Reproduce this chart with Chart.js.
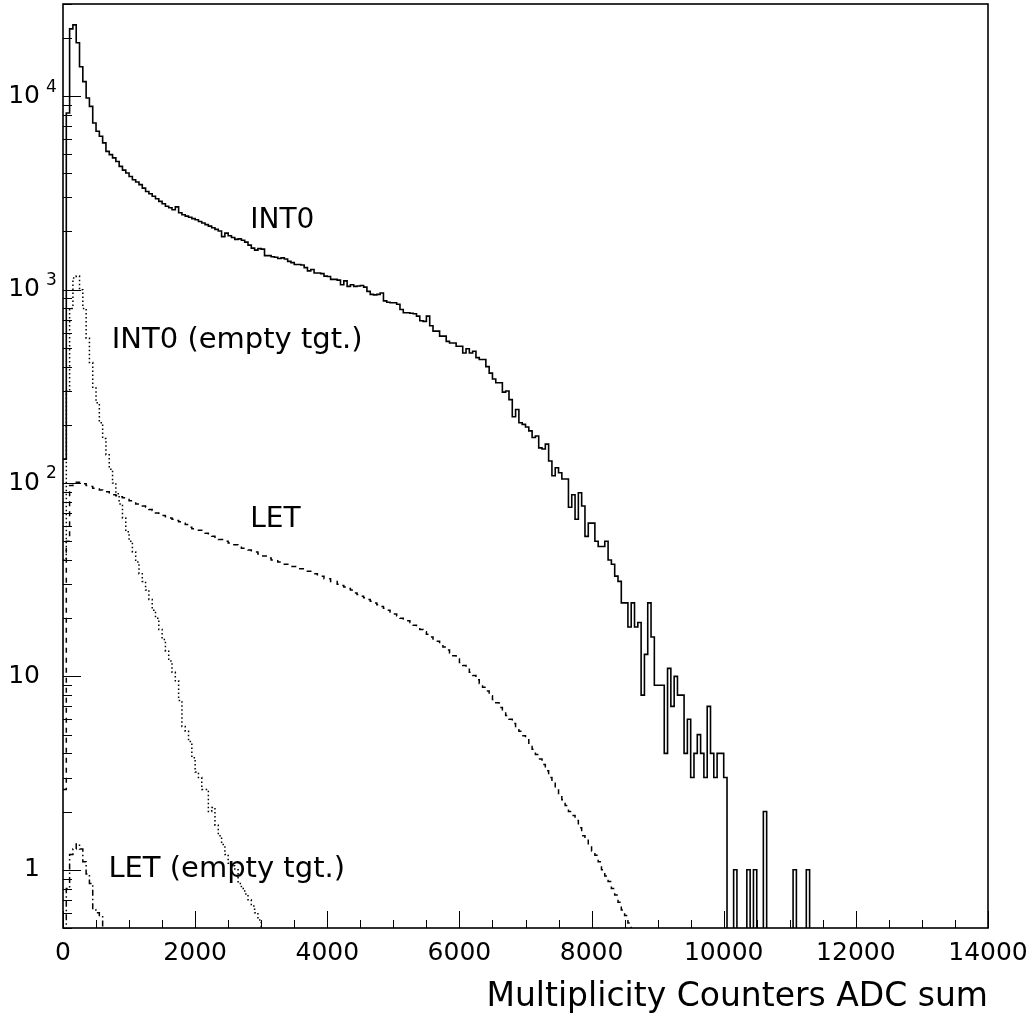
<!DOCTYPE html>
<html>
<head>
<meta charset="utf-8">
<script src="https://cdn.jsdelivr.net/npm/chart.js@4.4.0/dist/chart.umd.min.js"></script>
<style>
  body { margin: 0; background: #fff; }
  canvas { display: block; }
</style>
</head>
<body>
<canvas id="hist" width="1035" height="1024"></canvas>
<script>
// histogram bin width (ADC counts), every series starts at 0
const binWidth = 50;

// INT0 trigger, full target (solid)
const int0Counts = [
  133, 8200, 22300, 23400, 18900, 14200, 11900, 9800, 8870, 7280,
  6590, 6210, 5740, 5190, 4990, 4800, 4600, 4340, 4150, 4010,
  3850, 3700, 3600, 3490, 3350, 3220, 3130, 3040, 2950, 2860,
  2780, 2700, 2650, 2590, 2680, 2500, 2440, 2400, 2370, 2330,
  2300, 2250, 2210, 2170, 2130, 2090, 2050, 2010, 1880, 1960,
  1900, 1860, 1820, 1830, 1800, 1760, 1700, 1640, 1600, 1630,
  1620, 1500, 1500, 1480, 1470, 1450, 1460, 1440, 1400, 1380,
  1350, 1350, 1340, 1300, 1250, 1270, 1220, 1220, 1210, 1175,
  1170, 1130, 1130, 1120, 1060, 1110, 1040, 1060, 1040, 1045,
  1050, 1030, 980, 945, 940, 945, 960, 875, 860, 855,
  855, 840, 790, 760, 760, 755, 750, 730, 690, 685,
  730, 650, 610, 610, 575, 575, 540, 530, 530, 510,
  510, 470, 495, 470, 480, 445, 435, 435, 400, 370,
  345, 330, 330, 295, 299, 270, 220, 240, 205, 201,
  195, 186, 172, 175, 152, 150, 159, 130, 109, 120,
  113, 105, 105, 75, 87, 65, 89, 76, 53, 62,
  62, 50, 47, 47, 50, 40, 38, 33, 31, 24,
  24, 18, 24, 18, 19, 8, 13, 24, 16, 9,
  9, 9, 4, 11, 7, 10, 8, 8, 4, 6,
  3, 4, 5, 4, 3, 7, 4, 3, 4, 4,
  3, 0, 0, 1, 0, 0, 0, 1, 0, 1,
  0, 0, 2, 0, 0, 0, 0, 0, 0, 0,
  0, 1, 0, 0, 0, 1
];

// INT0 trigger, empty target (dotted)
const int0EmptyCounts = [
  40, 300, 800, 1150, 1175, 1000, 800, 560, 420, 310,
  260, 205, 170, 140, 118, 100, 88, 78, 66, 56,
  50, 44, 39, 34, 31, 28, 25, 22, 20, 17.5,
  15.5, 13.5, 12, 10.5, 9.5, 7.5, 5.5, 5.2, 4.6, 3.8,
  3.2, 3.0, 2.6, 2.6, 2.0, 2.1, 1.7, 1.5, 1.35, 1.2,
  1.08, 1.05, 1.0, 0.85, 0.8, 0.75, 0.7, 0.65, 0.6, 0.55
];

// LET trigger, full target (dashed)
const letCounts = [
  2.6, 50, 97, 100, 101, 100, 99, 97, 96, 94,
  93, 92, 91, 90, 89, 87, 86, 85, 84, 83,
  81, 80, 78, 77, 76, 75, 73, 72, 70, 69,
  68, 67, 66, 65, 64, 63, 62, 61, 59, 58,
  58, 57, 56, 55, 54, 53, 52, 51, 51, 50,
  49, 48, 48, 47, 46, 46, 45, 44, 44, 43,
  42, 42, 41, 40, 40, 39, 39, 38, 38, 37,
  37, 36, 36, 35, 35, 34, 34, 33, 33, 32,
  32, 31, 31, 30, 29.5, 29, 28.5, 28, 27, 26.5,
  26, 25.5, 25, 24.5, 24, 23.5, 23, 22.5, 22, 21.5,
  21, 20.5, 20, 19.8, 19.4, 19, 18.4, 18, 17.5, 17,
  16.5, 16, 15.6, 15.2, 14.7, 14.2, 13.7, 13.2, 12.8, 12.3,
  11.8, 11.4, 11, 10.5, 10.1, 9.6, 9.2, 8.8, 8.4, 7.95,
  7.6, 7.3, 6.9, 6.6, 6.27, 6.0, 5.7, 5.4, 5.2, 4.94,
  4.7, 4.4, 4.2, 3.95, 3.74, 3.5, 3.25, 3.0, 2.8, 2.62,
  2.45, 2.3, 2.15, 2.0, 1.91, 1.8, 1.65, 1.5, 1.45, 1.35,
  1.25, 1.19, 1.1, 1.0, 0.93, 0.87, 0.8, 0.74, 0.68, 0.62,
  0.58, 0.53
];

// LET trigger, empty target (dash-dot)
const letEmptyCounts = [0.3, 0.8, 1.2, 1.28, 1.36, 1.28, 1.1, 0.95, 0.85, 0.62, 0.6, 0.58];

const xTicks = [0, 2000, 4000, 6000, 8000, 10000, 12000, 14000];
const xMinorStep = 500;
const yDecades = [0, 1, 2, 3, 4];

const notes = [
  { text: 'INT0', x: 2833, y: 2088 },
  { text: 'INT0 (empty tgt.)', x: 738, y: 500 },
  { text: 'LET', x: 2833, y: 59 },
  { text: 'LET (empty tgt.)', x: 687, y: 0.92 }
];

const FONT = 'DejaVu Sans';
// empty bins are drawn below the visible range so the step drops to the axis
const emptyLevel = 0.05;

function toPoints(counts) {
  const pts = counts.map((c, i) => ({ x: i * binWidth, y: c > 0 ? c : emptyLevel }));
  pts.push({ x: counts.length * binWidth, y: emptyLevel });
  return pts;
}

function histSet(label, counts, dash, width) {
  return {
    label: label,
    data: toPoints(counts),
    stepped: 'before',
    borderColor: '#000',
    borderWidth: width,
    borderDash: dash,
    pointRadius: 0,
    fill: false
  };
}

const decor = {
  id: 'decor',
  afterDraw(chart) {
    const { ctx, chartArea: a, scales: { x, y } } = chart;
    ctx.save();
    ctx.strokeStyle = '#000';
    ctx.fillStyle = '#000';

    ctx.lineWidth = 1.6;
    ctx.strokeRect(a.left, a.top, a.right - a.left, a.bottom - a.top);

    // tick marks pointing inside
    ctx.lineWidth = 1;
    ctx.beginPath();
    for (let v = x.min; v <= x.max; v += xMinorStep) {
      const px = Math.round(x.getPixelForValue(v)) + 0.5;
      const len = xTicks.includes(v) ? 17 : 8;
      ctx.moveTo(px, a.bottom);
      ctx.lineTo(px, a.bottom - len);
    }
    for (let e = -1; e <= 4; e++) {
      for (let m = 1; m <= 9; m++) {
        const v = m * Math.pow(10, e);
        if (v < y.min || v > y.max) continue;
        const py = Math.round(y.getPixelForValue(v)) + 0.5;
        ctx.moveTo(a.left, py);
        ctx.lineTo(a.left + (m === 1 ? 18 : 9), py);
      }
    }
    ctx.stroke();

    // y labels: 1, 10, 10^2 ...
    ctx.textBaseline = 'middle';
    yDecades.forEach(e => {
      const py = y.getPixelForValue(Math.pow(10, e));
      ctx.font = '25px "' + FONT + '"';
      ctx.textAlign = 'right';
      ctx.fillText(e === 0 ? '1' : '10', 40, py);
      if (e > 1) {
        ctx.font = '17px "' + FONT + '"';
        ctx.textAlign = 'left';
        ctx.fillText(String(e), 46, py - 9);
      }
    });

    // curve names
    ctx.textAlign = 'left';
    ctx.textBaseline = 'alphabetic';
    notes.forEach(n => {
      ctx.font = (n.text.length > 4 ? 29 : 28) + 'px "' + FONT + '"';
      ctx.fillText(n.text, x.getPixelForValue(n.x), y.getPixelForValue(n.y));
    });
    ctx.restore();
  }
};

new Chart(document.getElementById('hist'), {
  type: 'line',
  data: {
    datasets: [
      histSet('INT0', int0Counts, [], 1.6),
      histSet('INT0 (empty tgt.)', int0EmptyCounts, [1.5, 2.5], 1.5),
      histSet('LET', letCounts, [5, 5], 1.5),
      histSet('LET (empty tgt.)', letEmptyCounts, [6, 3, 1.5, 3], 1.5)
    ]
  },
  options: {
    responsive: false,
    animation: false,
    layout: { padding: { top: 4, right: 47, left: 0, bottom: 0 } },
    plugins: { legend: { display: false }, tooltip: { enabled: false } },
    scales: {
      x: {
        type: 'linear',
        min: 0,
        max: 14000,
        grid: { display: false, drawTicks: false },
        border: { display: false },
        ticks: {
          stepSize: 2000,
          autoSkip: false,
          maxRotation: 0,
          padding: 10,
          color: '#000',
          font: { family: FONT, size: 25 },
          callback: v => String(v)
        },
        title: {
          display: true,
          text: 'Multiplicity Counters ADC sum',
          align: 'end',
          color: '#000',
          font: { family: FONT, size: 33 },
          padding: { top: 0, bottom: 7 }
        },
        afterFit: s => { s.height = 96; s.paddingLeft = 0; s.paddingRight = 0; }
      },
      y: {
        type: 'logarithmic',
        min: 0.5,
        max: 30000,
        grid: { display: false, drawTicks: false },
        border: { display: false },
        ticks: { display: false },
        afterFit: s => { s.width = 63; }
      }
    }
  },
  plugins: [decor]
});
</script>
</body>
</html>
